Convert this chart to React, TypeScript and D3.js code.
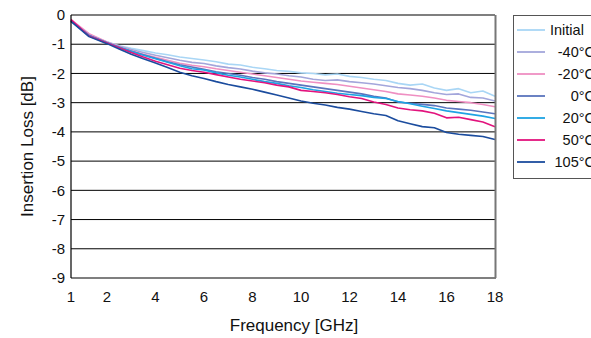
import React from "react";
import * as d3 from "d3";

const freqs = [1, 1.5, 2, 2.5, 3, 3.5, 4, 4.5, 5, 5.5, 6, 6.5, 7, 7.5, 8, 8.5, 9, 9.5, 10, 10.5, 11, 11.5, 12, 12.5, 13, 13.5, 14, 14.5, 15, 15.5, 16, 16.5, 17, 17.5, 18];

const initial = [-0.2, -0.68, -0.92, -1.05, -1.14, -1.22, -1.3, -1.36, -1.44, -1.49, -1.54, -1.6, -1.68, -1.71, -1.79, -1.84, -1.9, -1.93, -1.98, -2.0, -2.05, -2.02, -2.1, -2.14, -2.2, -2.24, -2.34, -2.4, -2.36, -2.5, -2.58, -2.52, -2.66, -2.6, -2.78];
const m40 = [-0.2, -0.68, -0.93, -1.07, -1.18, -1.28, -1.38, -1.46, -1.55, -1.62, -1.66, -1.74, -1.8, -1.85, -1.92, -1.98, -2.02, -2.08, -2.12, -2.2, -2.24, -2.22, -2.28, -2.32, -2.36, -2.42, -2.48, -2.52, -2.58, -2.66, -2.72, -2.7, -2.82, -2.84, -2.94];
const m20 = [-0.16, -0.64, -0.92, -1.08, -1.22, -1.34, -1.45, -1.55, -1.65, -1.72, -1.77, -1.84, -1.9, -1.96, -2.02, -2.08, -2.14, -2.2, -2.26, -2.3, -2.34, -2.38, -2.44, -2.5, -2.56, -2.62, -2.7, -2.74, -2.78, -2.84, -2.92, -2.96, -3.0, -3.06, -3.14];
const c0 = [-0.22, -0.7, -0.95, -1.1, -1.24, -1.36, -1.48, -1.6, -1.7, -1.78, -1.86, -1.94, -2.0, -2.06, -2.14, -2.2, -2.28, -2.34, -2.4, -2.46, -2.52, -2.58, -2.64, -2.7, -2.78, -2.84, -2.98, -3.02, -3.06, -3.1, -3.18, -3.22, -3.26, -3.32, -3.38];
const c20 = [-0.2, -0.7, -0.95, -1.1, -1.24, -1.38, -1.5, -1.62, -1.74, -1.84, -1.88, -1.98, -2.06, -2.12, -2.2, -2.28, -2.34, -2.42, -2.48, -2.56, -2.62, -2.68, -2.72, -2.76, -2.82, -2.86, -2.96, -3.04, -3.12, -3.2, -3.28, -3.34, -3.4, -3.46, -3.54];
const c50 = [-0.16, -0.72, -0.96, -1.12, -1.28, -1.44, -1.58, -1.7, -1.82, -1.9, -1.96, -2.04, -2.12, -2.2, -2.26, -2.32, -2.4, -2.46, -2.58, -2.62, -2.66, -2.72, -2.8, -2.86, -2.98, -3.06, -3.18, -3.24, -3.28, -3.36, -3.52, -3.5, -3.58, -3.66, -3.82];
const c105 = [-0.22, -0.74, -0.98, -1.16, -1.34, -1.5, -1.64, -1.8, -1.96, -2.08, -2.17, -2.28, -2.38, -2.46, -2.54, -2.64, -2.74, -2.84, -2.94, -3.02, -3.08, -3.16, -3.22, -3.3, -3.38, -3.44, -3.62, -3.72, -3.82, -3.86, -4.02, -4.08, -4.12, -4.16, -4.26];

const seriesNames = ["Initial", "-40°C", "-20°C", "0°C", "20°C", "50°C", "105°C"];
const seriesValues = [initial, m40, m20, c0, c20, c50, c105];
const seriesColors = ["#a9d6f5", "#a3a6db", "#ef8fc2", "#5b74bd", "#1ea3e3", "#e2137d", "#1b4c9e"];

const xTicks = [1, 2, 4, 6, 8, 10, 12, 14, 16, 18];
const yTicks = [0, -1, -2, -3, -4, -5, -6, -7, -8, -9];

const FONT = "'Liberation Sans', Arial, Helvetica, sans-serif";

export default function App() {
  const W = 591, H = 338;
  const left = 71, right = 495, top = 15, bottom = 278;
  // piecewise linear axis: "1" sits at the left edge, 2..18 evenly spaced
  const x = d3.scaleLinear().domain([1, 2, 18]).range([left, 107, right]);
  const y = d3.scaleLinear().domain([-9, 0]).range([bottom, top]);
  const line = d3
    .line<number>()
    .x((_, i) => x(freqs[i]))
    .y((d) => y(d));

  const legX = 513, legY = 15;
  return (
    <div style={{ position: "absolute", left: 0, top: 0 }}>
      <svg width={W} height={H} style={{ display: "block", background: "#fff" }} fontFamily={FONT}>
        {yTicks.map((t) => (
          <g key={t}>
            {t !== -9 && t !== 0 && (
              <line x1={left} x2={right} y1={y(t)} y2={y(t)} stroke="#000" strokeWidth={1} />
            )}
            <text x={65} y={y(t)} dy="0.35em" textAnchor="end" fontSize={15} fill="#111">
              {t}
            </text>
          </g>
        ))}
        {seriesValues.map((vals, i) => (
          <path key={i} d={line(vals) || ""} fill="none" stroke={seriesColors[i]} strokeWidth={1.6} strokeLinejoin="round" />
        ))}
        <line x1={left} x2={right} y1={top} y2={top} stroke="#000" strokeWidth={1.2} />
        <line x1={left} x2={right + 1} y1={bottom} y2={bottom} stroke="#000" strokeWidth={1.2} />
        <line x1={left} x2={left} y1={top} y2={bottom} stroke="#000" strokeWidth={1.2} />
        <line x1={right + 0.5} x2={right + 0.5} y1={top} y2={bottom} stroke="#777" strokeWidth={2} />
        {xTicks.map((t) => (
          <text key={t} x={x(t)} y={302} textAnchor="middle" fontSize={15} fill="#111">
            {t}
          </text>
        ))}
        <text x={294} y={331} textAnchor="middle" fontSize={17} fill="#111">
          Frequency [GHz]
        </text>
        <text transform={`translate(33,${(top + bottom) / 2}) rotate(-90)`} textAnchor="middle" fontSize={17} fill="#111">
          Insertion Loss [dB]
        </text>
        <rect x={legX + 0.5} y={legY + 0.5} width={100} height={163} fill="#fff" stroke="#555" strokeWidth={1} />
        {seriesNames.map((n, i) => {
          const ly = 30 + i * 22;
          return (
            <g key={n}>
              <line x1={517} x2={545} y1={ly} y2={ly} stroke={seriesColors[i]} strokeWidth={1.8} />
              {i === 0 ? (
                <text x={550} y={ly} dy="0.35em" fontSize={14.5} fill="#111">
                  {n}
                </text>
              ) : (
                <text x={595} y={ly} dy="0.35em" textAnchor="end" fontSize={14.5} fill="#111">
                  {n}
                </text>
              )}
            </g>
          );
        })}
      </svg>
    </div>
  );
}
